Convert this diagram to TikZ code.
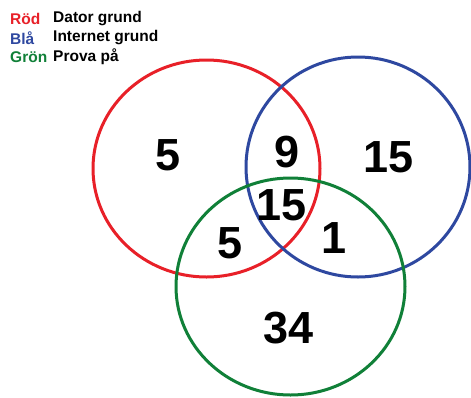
\documentclass[tikz,border=0pt]{standalone}
\usepackage{fontspec}
\setmainfont{Liberation Sans}
\definecolor{vred}{RGB}{232,32,40}
\definecolor{vblue}{RGB}{46,72,160}
\definecolor{vgreen}{RGB}{16,128,56}
\begin{document}
\begin{tikzpicture}[x=1pt,y=-1pt,
  ring/.style={draw,line width=3pt},
  num/.style={font=\fontsize{45}{45}\selectfont\bfseries,inner sep=0pt},
  legk/.style={font=\fontsize{15.5}{15.5}\selectfont\bfseries,anchor=west,inner sep=0pt},
  legv/.style={font=\fontsize{15.5}{15.5}\selectfont\bfseries,anchor=west,inner sep=0pt}]
\useasboundingbox[fill=white] (0,0) rectangle (471,397);
\draw[ring,vred] (206.5,168.5) ellipse [x radius=113.5, y radius=108.5];
\draw[ring,vblue] (358,167) ellipse [x radius=112, y radius=110];
\draw[ring,vgreen] (290.5,286.5) ellipse [x radius=114.5, y radius=108.5];
\node[num] (a) at (168,155) {5};
\node[num] (b) at (287,152) {9};
\node[num] (c) at (389,157) {15};
\node[num] (d) at (282,205) {15};
\node[num] (e) at (230,243) {5};
\node[num] (f) at (334,238) {1};
\node[num] (g) at (289,328) {34};
\node[legk,vred] (k1) at (10,19) {Röd};
\node[legk,vblue] (k2) at (10,38) {Blå};
\node[legk,vgreen] (k3) at (10,57) {Grön};
\node[legv] (v1) at (53,19) {Dator grund};
\node[legv] (v2) at (53,38) {Internet grund};
\node[legv] (v3) at (53,57) {Prova på};
\end{tikzpicture}
\end{document}
